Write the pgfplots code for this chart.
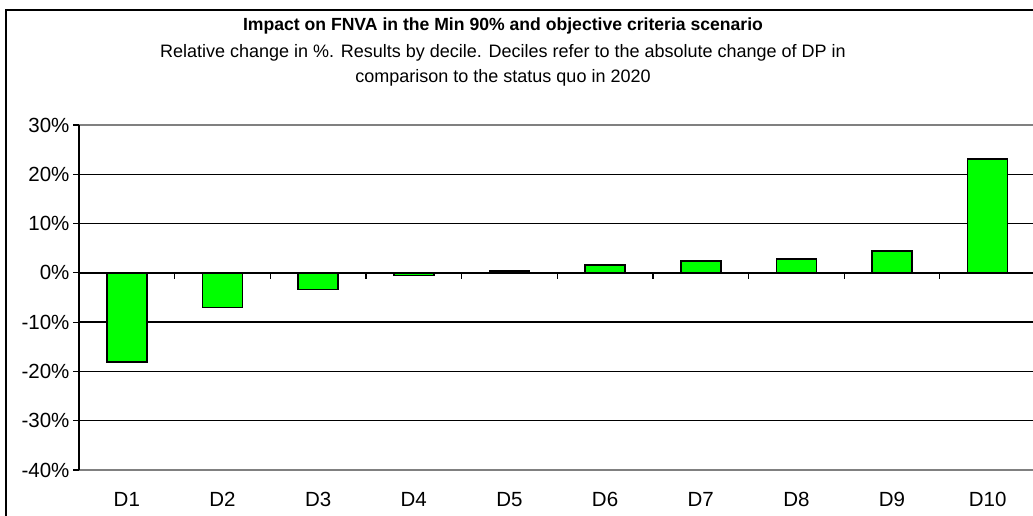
\documentclass[border=0pt]{standalone}
\usepackage{pgfplots}
\pgfplotsset{compat=1.18}
\usepackage{fontspec}
\setmainfont{Liberation Sans}
\definecolor{bargreen}{RGB}{0,255,0}
\definecolor{bordergray}{RGB}{128,128,128}
\begin{document}
\begin{tikzpicture}[x=1pt,y=1pt]
\useasboundingbox (0,0) rectangle (1033,515);
\begin{axis}[
  at={(79pt,45pt)}, anchor=south west, scale only axis,
  width=956.5pt, height=345pt,
  xmin=0.5, xmax=10.5, ymin=-40, ymax=30,
  separate axis lines,
  x axis line style={bordergray, line width=1.5pt},
  y axis line style={black, line width=1.5pt},
  ytick={-40,-30,-20,-10,0,10,20,30},
  yticklabels={-40\%,-30\%,-20\%,-10\%,0\%,10\%,20\%,30\%},
  ytick pos=left,
  tick align=outside,
  major tick length=6pt,
  ymajorgrids,
  grid style={black, line width=1.3pt},
  y tick style={black, line width=1.2pt},
  xtick={1,2,3,4,5,6,7,8,9,10},
  xticklabels={D1,D2,D3,D4,D5,D6,D7,D8,D9,D10},
  x tick style={draw=none},
  xticklabel style={anchor=base, yshift=-30pt},
  tick label style={font=\fontsize{20.5}{24}\selectfont},
  ybar, bar width=40pt,
]
\addplot[fill=bargreen, draw=black, line width=1.6pt] coordinates {
  (1,-18.1) (2,-7.0) (3,-3.4) (4,-0.5) (5,0.4)
  (6,1.6) (7,2.4) (8,2.8) (9,4.4) (10,23.1)};
\end{axis}
\begin{axis}[
  at={(79pt,45pt)}, anchor=south west, scale only axis,
  width=956.5pt, height=345pt,
  xmin=0.5, xmax=10.5, ymin=-40, ymax=30,
  axis y line=none, axis x line=middle,
  x axis line style={-, black, line width=1.4pt},
  xtick={1.5,2.5,3.5,4.5,5.5,6.5,7.5,8.5,9.5},
  xticklabels={},
  tick align=outside, major tick length=6pt,
  x tick style={black, line width=1.2pt},
]
\end{axis}
\draw[line width=2pt] (6,-5) -- (6,505) -- (1040,505);
\node[font=\bfseries\fontsize{17.6}{20}\selectfont] at (503,489) {Impact on FNVA in the Min 90\% and objective criteria scenario};
\node[font=\fontsize{18}{20}\selectfont] at (503,462) {Relative change in \%. Results by decile. Deciles refer to the absolute change of DP in};
\node[font=\fontsize{18}{20}\selectfont] at (503,437) {comparison to the status quo in 2020};
\end{tikzpicture}
\end{document}
